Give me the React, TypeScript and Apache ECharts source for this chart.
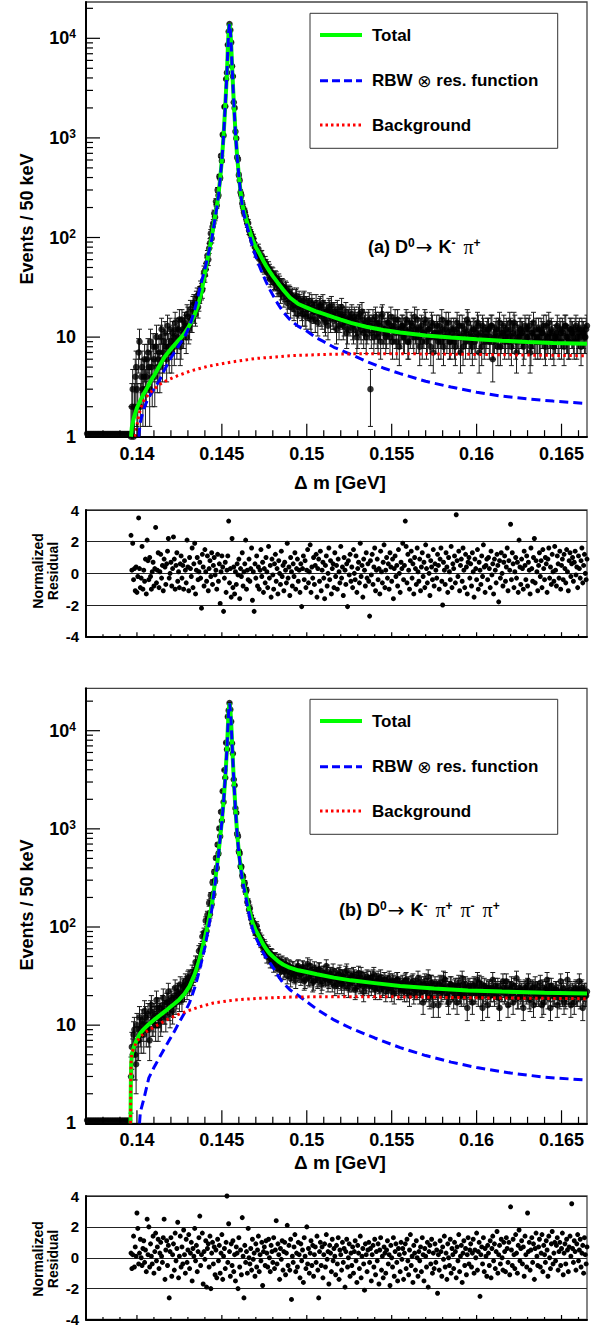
import React, { useEffect, useRef } from "react";
import * as echarts from "echarts";

const FONT = "'Liberation Sans', Arial, Helvetica, sans-serif";

// bin grids (GeV): 50 keV bins, stored as two interleaved sets
const evenStart = 0.13705;
const oddStart = 0.1397;
const binPair = 0.0001;
const resStart = 0.13965;
const resStep = 0.00005;

const xMin = 0.137;
const xMax = 0.1665;
const yMaxA = 23150;
const yMaxB = 27040;

const xMajor = [0.14, 0.145, 0.15, 0.155, 0.16, 0.165];
const xMajorLabels = ["0.14", "0.145", "0.15", "0.155", "0.16", "0.165"];
const xMinor = [0.137, 0.138, 0.139, 0.141, 0.142, 0.143, 0.144, 0.146, 0.147, 0.148, 0.149, 0.151, 0.152, 0.153, 0.154, 0.156, 0.157, 0.158, 0.159, 0.161, 0.162, 0.163, 0.164, 0.166];
const yMajor = [1, 10, 100, 1000, 10000];
const yMinor = [2, 3, 4, 5, 6, 7, 8, 9, 20, 30, 40, 50, 60, 70, 80, 90, 200, 300, 400, 500, 600, 700, 800, 900, 2000, 3000, 4000, 5000, 6000, 7000, 8000, 9000, 20000];

// (a) D0 -> K- pi+ : events per 50 keV bin (even bins, from 0.13705)
const countsA = [
  0, 0, 0, 0, 0, 0, 0, 0, 0, 0, 0, 0, 0, 0, 0, 0, 0, 0, 0, 0, 0, 0, 0, 0, 0, 0,
  1, 3, 2, 5, 2, 9, 4, 3, 6, 4,
  7, 3, 5, 8, 4, 10, 6, 5, 12, 7,
  11, 6, 8, 12, 7, 10, 14, 9, 12, 8,
  15, 11, 13, 17, 12, 19, 15, 22, 17, 26,
  23, 31, 30, 45, 48, 66, 78, 110, 128, 175,
  230, 300, 410, 660, 1080, 2050, 3900, 8600, 13900, 9100,
  4150, 2000, 990, 610, 375, 265, 200, 183, 150, 140,
  115, 104, 98, 80, 74, 77, 62, 66, 52, 57,
  46, 50, 38, 44, 35, 40, 31, 37, 27, 33,
  25, 31, 22, 28, 20, 26, 19, 25, 17, 24,
  21, 17, 24, 16, 19, 23, 15, 20, 18, 22,
  14, 20, 17, 22, 15, 18, 13, 19, 21, 16,
  18, 12, 17, 15, 20, 13, 16, 11, 15, 14,
  17, 12, 15, 10, 16, 13, 18, 11, 14, 12,
  15, 3, 13, 10, 16, 11, 14, 9, 17, 12,
  10, 14, 12, 16, 9, 13, 11, 15, 8, 12,
  13, 10, 15, 9, 12, 14, 11, 16, 10, 12,
  8, 13, 11, 15, 9, 12, 10, 14, 7, 11,
  13, 9, 11, 15, 8, 12, 10, 14, 9, 11,
  12, 8, 14, 10, 7, 13, 11, 9, 15, 10,
  11, 8, 12, 10, 14, 7, 11, 13, 9, 10,
  12, 9, 13, 6, 10, 12, 8, 14, 10, 11,
  9, 12, 10, 14, 8, 11, 13, 7, 10, 12,
  11, 8, 13, 10, 12, 7, 11, 14, 9, 10,
  12, 9, 11, 13, 8, 10, 14, 9, 11, 8,
  10, 13, 9, 11, 12, 8, 13, 10, 9, 12,
  11, 9, 13, 10, 12, 8, 11, 10, 12,
];
// (a) odd bins, from 0.1397
const countsAodd = [
  2, 1, 4, 3, 7, 2, 5, 4, 3, 6,
  5, 9, 4, 6, 8, 5, 7, 10, 6, 9,
  8, 13, 7, 9, 11, 8, 12, 10, 15, 9,
  12, 14, 10, 16, 13, 15, 21, 18, 24, 20,
  27, 29, 37, 42, 55, 60, 88, 98, 140, 160,
  210, 265, 395, 590, 1060, 2080, 4520, 11700, 12100, 5250,
  2280, 1160, 640, 425, 285, 220, 178, 165, 138, 118,
  110, 92, 88, 72, 70, 61, 64, 55, 50, 53,
  44, 47, 40, 43, 36, 39, 33, 35, 29, 32,
  28, 30, 24, 27, 25, 23, 21, 26, 20, 22,
  19, 23, 17, 21, 20, 16, 22, 18, 15, 19,
  17, 21, 16, 19, 14, 18, 20, 15, 17, 16,
  15, 19, 13, 17, 16, 14, 18, 12, 16, 15,
  13, 16, 14, 11, 17, 12, 15, 13, 10, 14,
  13, 11, 15, 12, 14, 10, 13, 16, 11, 12,
  11, 14, 10, 13, 12, 15, 9, 12, 11, 13,
  10, 12, 14, 9, 11, 13, 10, 12, 15, 10,
  12, 9, 11, 14, 10, 12, 8, 13, 11, 10,
  11, 13, 9, 12, 10, 14, 11, 9, 12, 10,
  9, 12, 11, 13, 10, 8, 12, 11, 14, 9,
  10, 12, 9, 11, 13, 10, 8, 12, 10, 11,
  12, 10, 13, 9, 11, 10, 12, 8, 11, 13,
  10, 11, 9, 12, 10, 14, 9, 11, 10, 12,
  11, 9, 12, 10, 13, 8, 11, 10, 12, 9,
  10, 12, 11, 9, 13, 10, 11, 12, 9, 10,
  11, 10, 12, 9, 11, 13, 10, 9, 12, 11,
  10, 12, 9, 11, 10, 12, 11, 10, 13,
];

// (b) D0 -> K- pi+ pi- pi+ (even bins, from 0.13705)
const countsB = [
  0, 0, 0, 0, 0, 0, 0, 0, 0, 0, 0, 0, 0, 0, 0, 0, 0, 0, 0, 0, 0, 0, 0, 0, 0, 0,
  3, 5, 9, 4, 7, 12, 8, 10, 14, 9,
  13, 7, 16, 11, 13, 18, 10, 15, 12, 19,
  14, 17, 22, 13, 18, 16, 24, 19, 21, 26,
  18, 25, 28, 23, 31, 27, 35, 33, 44, 42,
  57, 60, 80, 88, 116, 133, 176, 210, 285, 365,
  505, 690, 1010, 1490, 2420, 3980, 7550, 13900, 19100, 12400,
  5850, 2780, 1460, 840, 565, 410, 325, 280, 238, 180,
  155, 120, 112, 92, 103, 84, 78, 74, 60, 63,
  50, 56, 45, 52, 41, 48, 38, 46, 36, 44,
  35, 42, 32, 40, 30, 38, 33, 29, 39, 34,
  31, 39, 28, 35, 42, 30, 36, 27, 38, 33,
  29, 37, 26, 34, 31, 40, 27, 33, 30, 36,
  25, 32, 29, 35, 26, 31, 28, 36, 24, 30,
  27, 33, 23, 29, 34, 26, 30, 22, 28, 31,
  25, 30, 27, 33, 23, 28, 26, 31, 24, 29,
  22, 27, 30, 24, 28, 21, 26, 29, 25, 23,
  27, 22, 29, 25, 20, 26, 28, 23, 24, 30,
  21, 26, 17, 28, 22, 31, 19, 27, 16, 26,
  24, 16, 27, 22, 30, 29, 21, 17, 26, 22,
  19, 25, 17, 27, 21, 30, 20, 26, 15, 25,
  23, 17, 26, 21, 29, 27, 20, 15, 25, 21,
  16, 24, 22, 29, 20, 23, 25, 15, 22, 28,
  21, 28, 16, 23, 26, 17, 22, 30, 19, 23,
  22, 15, 24, 21, 28, 18, 23, 16, 26, 21,
  20, 27, 16, 17, 23, 29, 25, 15, 22, 20,
  23, 16, 21, 28, 20, 17, 19, 29, 21, 16,
  22, 17, 24, 20, 28, 23, 15, 22, 20,
];
// (b) odd bins, from 0.1397
const countsBodd = [
  6, 8, 5, 10, 7, 9, 11, 8, 12, 10,
  9, 14, 11, 12, 10, 15, 13, 11, 16, 14,
  12, 17, 15, 19, 14, 20, 17, 22, 18, 21,
  24, 22, 26, 30, 25, 28, 31, 35, 38, 44,
  47, 58, 64, 80, 91, 115, 135, 170, 215, 295,
  400, 560, 840, 1210, 1880, 3320, 6450, 16100, 16400, 7450,
  3180, 1620, 890, 590, 415, 335, 265, 230, 180, 150,
  130, 108, 100, 86, 92, 75, 70, 64, 66, 56,
  58, 49, 53, 45, 47, 42, 46, 39, 43, 40,
  37, 41, 36, 39, 34, 38, 32, 36, 40, 33,
  34, 38, 29, 36, 31, 40, 33, 28, 35, 30,
  37, 32, 28, 34, 30, 35, 29, 33, 27, 31,
  30, 26, 33, 28, 31, 25, 34, 29, 27, 32,
  28, 31, 24, 30, 27, 33, 25, 29, 26, 30,
  27, 25, 31, 24, 28, 30, 23, 27, 25, 29,
  26, 24, 28, 22, 27, 25, 29, 23, 26, 24,
  25, 28, 22, 26, 24, 27, 21, 25, 23, 27,
  24, 22, 26, 23, 25, 20, 27, 22, 24, 23,
  22, 26, 21, 24, 23, 25, 20, 23, 26, 22,
  24, 21, 25, 22, 20, 26, 23, 21, 24, 22,
  21, 25, 22, 24, 20, 23, 26, 21, 22, 24,
  23, 20, 24, 22, 25, 21, 19, 23, 22, 24,
  22, 24, 20, 23, 21, 25, 22, 19, 24, 21,
  20, 23, 22, 25, 19, 22, 24, 21, 20, 23,
  22, 20, 24, 21, 23, 19, 22, 25, 20, 21,
  23, 21, 19, 22, 24, 20, 22, 21, 23, 20,
  21, 23, 20, 22, 19, 24, 21, 20, 22,
];

const residA = [
  2.4, 0.2, 1.9, -0.4, 0.3, -1.1, 0.4, -1.2, -0.2, 3.5, 0.3, -0.9, -0.3, 1.7, -1.0, 0.2, -0.5, 0.9, -1.3, 2.1,
  0.8, -0.4, 1.0, -0.2, -1.0, 0.1, 0.7, -0.8, 0.3, 2.9, -0.6, 0.2, 1.3, -0.9, 0.1, 1.2, -0.3, 0.5, -1.1, 0.9,
  0.4, -0.7, 0.6, 1.4, 2.2, -0.3, 0.0, 0.7, -0.8, 0.3, 2.3, 0.9, -1.0, 0.5, 1.3, -0.5, 0.1, -0.9, 0.6, 1.1,
  -0.3, 0.5, -1.0, 0.8, 0.2, -0.6, 2.1, 0.4, -1.1, 1.0, 0.3, -0.2, 1.6, -0.9, 0.6, 1.9, -1.3, 0.2, 1.0, -0.4,
  0.1, 0.7, -0.3, -2.2, 1.2, 0.4, -0.8, 1.5, 0.1, -0.5, 1.1, -1.1, 0.3, 0.8, -0.2, 1.3, -0.7, 0.5, 1.0, -0.1,
  0.2, -1.0, 1.2, -0.5, 0.6, -1.9, 0.1, 1.1, 0.4, -2.4, -0.3, 0.7, -1.2, 0.2, 1.1, 3.3, -0.6, 0.3, -1.5, 2.2,
  -0.9, 0.4, -1.3, 0.1, -0.7, 0.6, -0.1, 0.9, -1.6, 0.3, -0.2, 1.3, -0.8, 0.1, 0.6, 2.1, -1.0, 0.2, -0.4, 0.9,
  -0.5, 0.3, 1.6, -1.7, 0.1, -2.4, 0.6, -0.3, 1.1, -0.8, 0.4, -1.0, 0.2, 1.5, -0.2, 0.7, -1.2, 0.3, -0.6, 1.0,
  0.1, -0.9, 1.7, -0.3, 0.5, -1.5, 0.9, -0.1, -1.0, 0.6, 1.2, -0.5, 0.3, -1.3, 0.8, 0.0, -0.7, 1.4, -0.2, 0.5,
  -1.1, 0.7, 0.2, -0.6, 1.9, -0.3, 0.4, -1.4, 1.0, 0.1, -0.8, 0.6, -0.2, 1.3, -1.0, 0.3, 0.9, -0.5, 0.2, -1.2,
  0.6, -2.1, 0.3, 1.1, -0.4, 0.8, -0.9, 0.2, 1.5, -0.6, 0.1, 1.8, -1.2, 0.4, -0.3, 1.0, -0.7, 0.5, 1.2, -1.5,
  0.3, 0.9, -0.5, 1.4, -1.1, 0.2, 0.7, -0.3, -1.6, 0.5, 1.1, -0.8, 0.0, 1.6, -0.4, 0.8, -1.3, 0.3, 0.6, -0.9,
  1.3, -0.2, 0.5, -1.0, 0.9, 0.1, -0.6, 1.7, -0.3, 0.4, -1.4, 1.0, 0.2, -0.7, 0.6, -2.1, 0.8, -0.1, 1.2, -0.5,
  0.4, -0.9, 1.5, 0.0, -0.4, 1.1, -1.2, 0.3, 0.7, -0.6, 1.9, -0.2, 0.5, -1.5, 0.9, 0.2, -0.8, 1.3, -0.3, 0.6,
  -0.5, -2.7, 0.8, -0.1, 1.2, -0.7, 0.4, 1.6, -1.1, 0.2, 0.9, -0.4, 0.3, -1.3, 1.4, 0.1, -0.6, 0.7, 1.8, -0.9,
  0.2, 1.0, -0.3, 0.6, -1.0, 1.3, 0.4, -0.5, 0.9, -1.6, 0.3, 1.1, -0.2, 0.5, -0.8, 1.5, 0.0, -1.2, 0.7, 0.3,
  1.9, -0.4, 0.5, 3.3, 1.7, -0.6, 1.2, 0.2, -1.0, 0.8, 1.4, -0.3, 0.6, -1.3, 1.0, 0.3, -0.7, 1.6, 0.1, -0.5,
  0.9, -1.1, 0.4, 1.3, -0.2, 0.7, -0.9, 1.8, 0.3, -0.6, 1.1, 0.0, -1.4, 0.8, 0.4, -0.4, 1.5, -0.8, 0.6, 0.2,
  -0.3, 1.2, 0.5, -1.0, 0.9, 1.6, -0.5, -2.0, 0.7, 0.2, -0.7, 1.3, 0.4, -1.2, 1.0, 0.1, -0.4, 1.7, -0.9, 0.6,
  0.3, 1.1, -0.6, 3.7, 0.8, -0.2, 1.4, -1.1, 0.5, 0.9, -0.5, 1.6, 0.2, -0.9, 1.2, 0.4, -1.3, 0.7, 1.0, -0.3,
  0.6, -0.8, 1.3, 0.1, -1.5, 0.9, 0.3, -0.4, 1.5, -1.0, 0.7, 0.2, -0.7, 1.1, -0.2, 1.8, 0.4, -1.2, 0.5, 0.9,
  -0.4, 1.0, 0.3, -0.9, 1.4, -0.1, 0.6, -1.3, 0.9, 0.2, -0.6, 1.2, 0.5, -1.8, 0.8, -0.3, 1.3, 0.0, -0.8, 0.7,
  1.1, -0.5, 0.4, 1.6, -1.1, 0.8, 0.2, 3.1, -0.4, 1.3, 0.6, -0.9, 0.1, 1.0, -0.3, 0.7, -1.2, 2.1, 0.4, -0.7,
  0.9, 0.3, -1.0, 1.4, 0.5, -0.4, 1.1, -0.8, 0.7, 0.2, -1.3, 1.6, 0.3, -0.5, 1.0, 2.2, -0.6, 0.8, 0.1, -1.1,
  0.5, 1.3, -0.2, 0.8, -0.9, 1.5, 0.3, -0.4, 1.0, 0.6, -1.2, 0.9, 1.6, -0.3, 0.4, -0.7, 1.2, 0.1, -0.5, 1.7,
  0.2, -0.8, 1.1, 0.6, -0.3, 1.4, -1.0, 0.5, 0.9, -0.4, 1.2, 0.3, -0.6, 1.5, 0.1, -1.1, 0.8, 1.3, -0.2, 0.6,
  1.0, -0.5, 0.7, 1.4, -0.1, 0.4, -0.9, 1.1, 0.3, -0.3, 0.8, 1.6, -0.6, 0.5, 1.2, 0.0, -0.4, 0.9, 1.3, 0.2,
];

const residB = [
  0.3, -0.7, 0.2, 1.4, -0.6, 0.7, 0.1, 2.9, 1.9, -0.4, 0.3, 1.2, 0.0, -0.5, 0.6, 1.1, -0.3, 0.5, -0.9, 2.5,
  0.2, 2.0, -0.6, 0.9, 0.1, -0.4, 1.4, -1.0, 0.4, 1.6, -0.2, 0.7, 1.2, -0.7, 0.3, 1.0, 0.1, -0.3, 1.3, 2.5,
  -1.4, 0.5, 1.1, -0.5, 0.8, -2.6, 0.4, 1.3, -1.2, 0.2, 0.9, -0.8, 1.6, -0.2, 0.6, 2.3, -1.3, 0.1, 1.4, -0.6,
  0.7, -0.4, 1.8, 0.2, -1.0, 1.2, -0.3, 0.5, 1.5, -0.7, 0.3, 1.0, -1.5, 0.6, 0.1, 1.9, -0.2, 0.8, -0.9, 0.4,
  1.3, 2.7, -0.5, 0.2, 1.6, -1.7, 0.4, -0.1, 1.1, -1.9, 0.6, 0.9, -0.6, 1.4, -2.0, 0.3, 1.0, -0.4, 0.7, -1.1,
  0.5, -1.3, 1.2, -0.2, 0.8, -1.0, 0.3, 1.5, -1.4, 0.1, 0.6, -0.7, 1.0, 4.0, -0.3, 2.2, 0.4, -1.2, 0.9, -0.5,
  1.1, -0.9, 0.2, -1.5, 0.7, 0.3, -2.0, 1.3, -0.6, 0.5, -1.1, 2.6, 0.1, -2.6, 0.8, -0.3, 0.4, -1.0, 1.9, 0.0,
  -0.4, 0.6, -0.8, 1.2, -0.1, 0.3, -1.2, 0.9, -0.6, 0.5, 1.4, -0.9, 0.2, -0.2, 1.0, -1.8, 0.4, 0.7, -0.5, 1.1,
  0.3, -0.6, 1.2, 0.0, -0.9, 0.8, 0.4, -0.3, 1.3, -0.7, 0.5, 2.4, -0.4, 0.9, 0.2, -1.4, 0.6, -0.1, 1.1, -0.8,
  0.4, 1.0, -1.1, 0.3, 2.1, -0.5, 0.8, -0.8, 1.2, -2.7, 0.1, -0.3, 0.7, 1.5, -0.9, 0.3, -0.6, 1.0, 0.2, -1.3,
  0.9, -0.2, 0.5, -1.6, 1.3, 0.1, -0.7, 2.0, -0.4, 0.6, -1.0, 0.3, 1.1, -0.5, 0.8, -1.2, 0.2, 0.7, -0.3, 1.4,
  -0.8, -2.6, 0.4, 1.0, -0.5, 0.7, -1.3, 0.2, 0.9, -0.6, 1.5, -0.1, 0.4, -1.7, 0.8, 0.3, -0.9, 1.2, -0.2, 0.6,
  0.1, -1.1, 0.8, -0.4, 1.3, -1.4, 0.5, 0.2, -0.8, 1.0, -0.3, 0.6, -1.9, 0.4, 1.2, -0.6, 0.0, 0.9, -1.2, 0.3,
  -0.5, 0.7, -1.0, 0.4, 1.1, -0.2, -1.6, 0.8, 0.3, -0.7, 1.4, -1.3, 0.1, 0.6, -0.4, -2.1, 0.9, 0.2, -0.9, 0.5,
  1.0, -0.3, 0.6, -1.5, 0.2, 0.8, -0.6, 1.2, -1.1, 0.4, -0.2, 0.9, -1.7, 0.5, 1.3, -0.8, 0.1, -1.3, 0.7, 0.3,
  -1.0, 0.5, 1.1, -0.4, 0.2, -1.8, 0.8, 0.0, -0.6, 1.3, -1.2, 0.4, 0.9, -0.3, -1.5, 0.6, 0.2, -0.9, 1.0, -0.1,
  0.6, -1.4, 0.3, 0.9, -0.7, 1.2, -0.2, -1.1, 0.5, 1.5, -0.5, 0.1, -1.6, 0.8, 0.3, -0.8, 1.1, 0.0, -1.2, 0.4,
  -0.2, 0.7, -0.9, 1.3, 0.2, -1.5, 0.6, 0.1, -0.6, 1.0, -1.9, 0.4, 0.8, -0.4, 1.2, -1.0, 0.3, -0.7, 0.9, -0.3,
  0.5, -2.3, 0.2, -0.8, 1.1, 0.4, -1.2, 0.7, -0.1, 1.4, -0.6, 0.3, -1.4, 0.9, 0.0, -0.5, 1.2, -1.0, 0.6, 0.2,
  -0.7, 1.0, 0.4, -1.3, 0.7, -0.2, 1.5, -0.9, 0.1, 0.8, -1.6, 0.3, 1.1, -0.5, 0.6, -1.1, 0.2, 1.3, -0.4, 0.5,
  0.9, -0.6, 0.3, 1.2, -1.0, 0.5, 0.0, 1.6, -0.8, 0.4, 1.0, -2.5, 0.2, 0.7, -0.4, 1.3, -0.9, 0.6, 0.1, -1.2,
  0.8, 0.3, -0.5, 1.1, -1.3, 0.6, 1.4, -0.2, 0.9, -0.7, 0.4, 1.7, -1.0, 0.2, 0.8, -0.4, 1.2, 0.0, -0.8, 1.0,
  0.4, -0.9, 1.3, 0.6, -0.3, 1.0, -1.1, 3.3, 0.5, -0.5, 1.2, 0.2, -0.7, 1.5, 0.3, -1.0, 0.8, 1.8, -0.2, 0.6,
  1.1, -0.4, 0.7, -1.2, 1.4, 0.2, -0.6, 2.9, 0.4, 1.0, -0.8, 0.5, 1.3, -0.3, 0.9, -1.4, 0.6, 1.6, 0.1, -0.5,
  0.7, 1.2, -0.6, 0.3, 1.5, -0.9, 0.8, 0.2, -0.3, 1.1, 0.5, -1.2, 1.4, 0.0, -0.7, 0.9, 1.7, -0.4, 0.3, 1.0,
  -0.2, 0.8, 1.3, -0.8, 0.4, 1.0, -0.5, 0.6, 1.6, -1.1, 0.3, 0.9, -0.4, 1.2, 0.5, -0.9, 0.7, 1.4, 0.1, 3.5,
  0.6, -0.3, 1.1, 0.4, -0.8, 0.9, 1.5, -0.2, 0.5, 1.2, -0.6, 0.3, 0.8, -1.0, 1.3, 0.2, -0.4, 0.7, 1.0, 0.4,
];

// fitted curves: [Δm, events]
const totalA = [
  [0.13965, 1.0], [0.1397, 1.25], [0.1398, 1.5], [0.1399, 1.72], [0.14, 1.95], [0.1402, 2.3], [0.1404, 2.7], [0.1406, 3.1], [0.1408, 3.6], [0.141, 4.1], [0.1412, 4.7], [0.1414, 5.4], [0.1416, 6.2], [0.1418, 6.9], [0.142, 7.6], [0.1422, 8.3], [0.1424, 9.1], [0.1426, 9.9], [0.1428, 10.9], [0.143, 12.3], [0.1432, 14.2], [0.1434, 16.8], [0.1436, 21], [0.1438, 28], [0.144, 44], [0.1442, 66], [0.1444, 100], [0.1446, 165], [0.1447, 205], [0.1448, 270], [0.1449, 390], [0.145, 600], [0.1451, 1050], [0.1452, 2100], [0.1453, 4500], [0.14535, 7800], [0.1454, 11800], [0.14545, 14000], [0.1455, 12000], [0.14555, 8600], [0.1456, 5300], [0.1457, 2300], [0.1458, 1150], [0.1459, 650], [0.146, 420], [0.1461, 290], [0.1462, 215], [0.1463, 183], [0.1464, 160], [0.1465, 140], [0.1466, 122], [0.1468, 96], [0.147, 80], [0.1472, 70], [0.1474, 60], [0.1476, 52], [0.1478, 46], [0.148, 41], [0.1483, 35], [0.1486, 30], [0.149, 25], [0.1495, 21.5], [0.15, 19.8], [0.1505, 18.2], [0.151, 17.1], [0.1516, 15.8], [0.152, 15.0], [0.1526, 13.9], [0.1535, 12.7], [0.1545, 11.8], [0.1555, 11.1], [0.157, 10.4], [0.1585, 9.9], [0.16, 9.5], [0.1615, 9.2], [0.163, 8.95], [0.1645, 8.75], [0.1665, 8.6],
];
const rbwA = [
  [0.1401, 1.0], [0.1402, 1.4], [0.1404, 1.9], [0.1406, 2.3], [0.1408, 2.65], [0.141, 3.0], [0.1413, 3.6], [0.1416, 4.6], [0.1419, 5.8], [0.1422, 7.0], [0.1425, 8.4], [0.1428, 10.0], [0.143, 11.8], [0.1432, 14.5], [0.1434, 19], [0.1436, 26], [0.1438, 36], [0.144, 48], [0.1442, 68], [0.1444, 95], [0.1446, 158], [0.1447, 198], [0.1448, 263], [0.1449, 384], [0.145, 595], [0.1451, 1045], [0.1452, 2095], [0.1453, 4495], [0.14535, 7795], [0.1454, 11795], [0.14545, 13995], [0.1455, 11995], [0.14555, 8595], [0.1456, 5295], [0.1457, 2295], [0.1458, 1145], [0.1459, 645], [0.146, 414], [0.1461, 284], [0.1462, 209], [0.1463, 172], [0.1464, 146], [0.1465, 126], [0.1466, 110], [0.1468, 82], [0.147, 64], [0.1472, 52], [0.1474, 43], [0.1476, 36], [0.1478, 30.5], [0.148, 26.5], [0.1483, 21.5], [0.1486, 18], [0.149, 15], [0.1495, 12.8], [0.15, 11.5], [0.1505, 10], [0.151, 9], [0.1516, 7.9], [0.1526, 6.7], [0.1535, 5.7], [0.1545, 4.9], [0.1555, 4.3], [0.157, 3.6], [0.1585, 3.15], [0.16, 2.8], [0.1615, 2.55], [0.163, 2.4], [0.1645, 2.28], [0.1665, 2.15],
];
const bkgA = [
  [0.1399, 1.0], [0.14, 1.3], [0.1401, 1.6], [0.1402, 1.9], [0.1404, 2.3], [0.1407, 2.7], [0.141, 3.0], [0.1414, 3.4], [0.1418, 3.7], [0.1424, 4.1], [0.1432, 4.6], [0.1442, 5.1], [0.1455, 5.6], [0.147, 6.1], [0.149, 6.5], [0.151, 6.7], [0.153, 6.8], [0.156, 6.8], [0.16, 6.7], [0.163, 6.6], [0.1665, 6.5],
];
const totalB = [
  [0.13962, 1.0], [0.13964, 2.5], [0.13966, 4.0], [0.1397, 5.0], [0.1398, 5.9], [0.14, 7.2], [0.1402, 8.3], [0.1404, 9.1], [0.1407, 10.2], [0.141, 11.3], [0.1414, 12.8], [0.1418, 14.5], [0.1422, 16.5], [0.1425, 18.3], [0.1428, 20.8], [0.1431, 25], [0.1434, 33], [0.1436, 42], [0.1438, 56], [0.144, 78], [0.1442, 112], [0.1444, 165], [0.1446, 290], [0.1448, 560], [0.145, 1200], [0.1451, 1900], [0.1452, 3300], [0.1453, 6500], [0.14535, 10500], [0.1454, 16000], [0.14545, 19000], [0.1455, 16500], [0.14555, 12000], [0.1456, 7500], [0.1457, 3200], [0.1458, 1600], [0.1459, 900], [0.146, 580], [0.1461, 420], [0.1462, 330], [0.1463, 270], [0.1464, 225], [0.1465, 185], [0.1466, 152], [0.1468, 112], [0.147, 92], [0.1472, 80], [0.1474, 68], [0.1476, 60], [0.1478, 54], [0.148, 50], [0.1483, 45], [0.1486, 41.5], [0.149, 38.5], [0.1495, 36.2], [0.15, 34.8], [0.1506, 33], [0.1516, 30.5], [0.1526, 28.6], [0.154, 26.8], [0.1555, 25], [0.1575, 23.6], [0.1595, 22.6], [0.1615, 22], [0.164, 21.4], [0.1665, 21],
];
const rbwB = [
  [0.14015, 1.0], [0.1402, 1.3], [0.1404, 1.75], [0.1407, 2.9], [0.141, 3.7], [0.1413, 4.6], [0.1416, 5.7], [0.1419, 7.0], [0.1422, 8.6], [0.1425, 10.8], [0.1428, 13.3], [0.1431, 17], [0.1434, 24], [0.1436, 32], [0.1438, 44], [0.144, 62], [0.1442, 95], [0.1444, 148], [0.1446, 272], [0.1448, 542], [0.145, 1182], [0.1451, 1882], [0.1452, 3282], [0.1453, 6482], [0.14535, 10482], [0.1454, 15982], [0.14545, 18982], [0.1455, 16482], [0.14555, 11982], [0.1456, 7482], [0.1457, 3182], [0.1458, 1582], [0.1459, 882], [0.146, 562], [0.1461, 402], [0.1462, 312], [0.1463, 252], [0.1464, 206], [0.1465, 166], [0.1466, 135], [0.1468, 96], [0.147, 78], [0.1472, 66], [0.1474, 56], [0.1476, 49], [0.1478, 44], [0.148, 39], [0.1483, 32], [0.1486, 27], [0.149, 23], [0.1496, 19.5], [0.1506, 14.5], [0.1516, 11.3], [0.1526, 9.3], [0.154, 7.4], [0.1555, 5.9], [0.157, 4.9], [0.1585, 4.2], [0.16, 3.7], [0.162, 3.25], [0.164, 2.95], [0.1665, 2.75],
];
const bkgB = [
  [0.13962, 1.0], [0.13964, 3.0], [0.13966, 4.5], [0.1397, 5.2], [0.1398, 5.8], [0.14, 6.8], [0.1402, 7.6], [0.1405, 8.5], [0.1408, 9.1], [0.1412, 10.0], [0.1417, 11.2], [0.1423, 12.6], [0.143, 14.0], [0.1437, 15.4], [0.1445, 16.8], [0.1457, 18.0], [0.147, 18.7], [0.149, 19.3], [0.151, 19.5], [0.154, 19.5], [0.157, 19.3], [0.16, 19.0], [0.163, 18.8], [0.1665, 18.6],
];

const GRIDS = [
  { left: 86, top: 2, width: 501, height: 434.7 },
  { left: 86, top: 510, width: 501, height: 126.7 },
  { left: 86, top: 688.3, width: 501, height: 435 },
  { left: 86, top: 1196, width: 501, height: 127 },
];

const GREEN = "#00ff00";
const BLUE = "#0000ff";
const RED = "#ff0000";

function tickLine(x1: number, y1: number, x2: number, y2: number) {
  return { type: "line", shape: { x1, y1, x2, y2 }, style: { stroke: "#000", lineWidth: 1.2 } };
}

function mainTicks(gridIdx: number, yMax: number) {
  return {
    type: "custom",
    xAxisIndex: gridIdx,
    yAxisIndex: gridIdx,
    clip: false,
    silent: true,
    z: 20,
    data: [[0.15, 10]],
    renderItem: (_p: any, api: any) => {
      const children: any[] = [];
      const origin = api.coord([xMin, 1]);
      const y0 = origin[1];
      const x0 = origin[0];
      xMajor.forEach((v, k) => {
        const px = api.coord([v, 1])[0];
        children.push(tickLine(px, y0, px, y0 - 13));
        children.push({
          type: "text",
          style: { text: xMajorLabels[k], x: px, y: y0 + 17, align: "center", verticalAlign: "middle", font: `bold 18px ${FONT}`, fill: "#000" },
        });
      });
      xMinor.forEach((v) => {
        if (v > xMax) return;
        const px = api.coord([v, 1])[0];
        children.push(tickLine(px, y0, px, y0 - 6.5));
      });
      yMajor.forEach((v) => {
        const py = api.coord([xMin, v])[1];
        children.push(tickLine(x0, py, x0 + 14, py));
      });
      yMinor.forEach((v) => {
        if (v > yMax) return;
        const py = api.coord([xMin, v])[1];
        children.push(tickLine(x0, py, x0 + 7, py));
      });
      return { type: "group", children };
    },
  };
}

function resTicks(gridIdx: number) {
  return {
    type: "custom",
    xAxisIndex: gridIdx,
    yAxisIndex: gridIdx,
    clip: false,
    silent: true,
    z: 20,
    data: [[0.15, 0]],
    renderItem: (_p: any, api: any) => {
      const children: any[] = [];
      const y0 = api.coord([xMin, -4])[1];
      xMajor.forEach((v) => {
        const px = api.coord([v, -4])[0];
        children.push(tickLine(px, y0, px, y0 - 4.5));
      });
      xMinor.forEach((v) => {
        if (v > xMax) return;
        const px = api.coord([v, -4])[0];
        children.push(tickLine(px, y0, px, y0 - 2.5));
      });
      return { type: "group", children };
    },
  };
}

function panelSeries(p: number, counts: number[], countsOdd: number[], total: number[][], rbw: number[][], bkg: number[][], resid: number[], yMax: number) {
  const gm = 2 * p;
  const gr = 2 * p + 1;
  const ptsEven = counts.map((n, i) => [+(evenStart + i * binPair).toFixed(6), n]);
  const ptsOdd = countsOdd.map((n, i) => [+(oddStart + i * binPair).toFixed(6), n]);
  const pts = ptsEven.concat(ptsOdd);
  const filled = pts.filter((d) => d[1] > 0 && d[0] <= xMax);
  const empty = ptsEven.filter((d) => d[1] === 0).map((d) => [d[0], 1]);
  const res = resid.map((r, i) => [+(resStart + i * resStep).toFixed(6), r]);
  return [
    {
      type: "custom",
      name: "errors" + p,
      xAxisIndex: gm,
      yAxisIndex: gm,
      clip: true,
      silent: true,
      z: 2,
      data: filled,
      renderItem: (_params: any, api: any) => {
        const x = api.value(0);
        const n = api.value(1);
        const s = Math.sqrt(n);
        const lo = Math.max(n - s, 1);
        const hi = n + s;
        const pHi = api.coord([x, hi]);
        const pLo = api.coord([x, lo]);
        const st = { stroke: "#1a1a1a", lineWidth: 1 };
        const children: any[] = [
          { type: "line", shape: { x1: pHi[0], y1: pHi[1], x2: pLo[0], y2: pLo[1] }, style: st },
          { type: "line", shape: { x1: pHi[0] - 2.5, y1: pHi[1], x2: pHi[0] + 2.5, y2: pHi[1] }, style: st },
        ];
        if (n - s > 1) {
          children.push({ type: "line", shape: { x1: pLo[0] - 2.5, y1: pLo[1], x2: pLo[0] + 2.5, y2: pLo[1] }, style: st });
        }
        return { type: "group", children };
      },
    },
    {
      type: "scatter",
      name: "data" + p,
      xAxisIndex: gm,
      yAxisIndex: gm,
      symbol: "circle",
      symbolSize: 6.5,
      itemStyle: { color: "#000" },
      z: 3,
      data: filled,
    },
    {
      type: "scatter",
      name: "empty" + p,
      xAxisIndex: gm,
      yAxisIndex: gm,
      symbol: "circle",
      symbolSize: 6,
      symbolOffset: [0, -3],
      itemStyle: { color: "#000" },
      z: 3,
      clip: false,
      data: empty,
    },
    {
      type: "line",
      name: "Total",
      xAxisIndex: gm,
      yAxisIndex: gm,
      showSymbol: false,
      symbol: "none",
      lineStyle: { color: GREEN, width: 4 },
      z: 4,
      data: total,
    },
    {
      type: "line",
      name: "RBW",
      xAxisIndex: gm,
      yAxisIndex: gm,
      showSymbol: false,
      symbol: "none",
      lineStyle: { color: BLUE, width: 3, type: [9, 5] },
      z: 5,
      data: rbw,
    },
    {
      type: "line",
      name: "Background",
      xAxisIndex: gm,
      yAxisIndex: gm,
      showSymbol: false,
      symbol: "none",
      lineStyle: { color: RED, width: 3, type: [2.5, 3.5] },
      z: 6,
      data: bkg,
    },
    mainTicks(gm, yMax),
    {
      type: "scatter",
      name: "resid" + p,
      xAxisIndex: gr,
      yAxisIndex: gr,
      symbol: "circle",
      symbolSize: 5,
      itemStyle: { color: "#000", opacity: 1 },
      z: 3,
      data: res,
    },
    resTicks(gr),
  ];
}

function legend(dy: number) {
  const t = (y: number, text: string) => ({
    type: "text",
    x: 372,
    y: y + dy,
    z: 51,
    style: { text, font: `bold 17px ${FONT}`, fill: "#000", align: "left", verticalAlign: "middle" },
  });
  return [
    { type: "rect", shape: { x: 310, y: 13.3 + dy, width: 247.7, height: 135 }, style: { fill: "#fff", stroke: "#333", lineWidth: 1 }, z: 50 },
    { type: "line", shape: { x1: 320, y1: 35 + dy, x2: 362, y2: 35 + dy }, style: { stroke: GREEN, lineWidth: 4 }, z: 51 },
    { type: "line", shape: { x1: 320, y1: 80.7 + dy, x2: 362, y2: 80.7 + dy }, style: { stroke: BLUE, lineWidth: 3, lineDash: [8, 4] }, z: 51 },
    { type: "line", shape: { x1: 320, y1: 125 + dy, x2: 362, y2: 125 + dy }, style: { stroke: RED, lineWidth: 3, lineDash: [2.5, 3] }, z: 51 },
    t(35, "Total"),
    {
      type: "text",
      x: 372,
      y: 80.7 + dy,
      z: 51,
      style: {
        text: "RBW {o|⊗} res. function",
        font: `bold 17px ${FONT}`,
        fill: "#000",
        align: "left",
        verticalAlign: "middle",
        rich: { o: { font: `17px 'DejaVu Sans'`, fill: "#000" } },
      },
    },
    t(125, "Background"),
  ];
}

const annRich = {
  s: { font: `bold 12px ${FONT}`, fill: "#000", verticalAlign: "top", lineHeight: 12 },
  r: { font: `20px 'DejaVu Sans'`, fill: "#000", padding: [0, 6, 0, 1] },
  p: { font: `20px 'Liberation Serif'`, fill: "#000", padding: [0, 0, 0, 3] },
};

function buildOption() {
  const xAxes = GRIDS.map((_, i) => ({
    type: "value",
    gridIndex: i,
    min: xMin,
    max: xMax,
    axisLine: { show: true, onZero: false, lineStyle: { color: "#000", width: 2 } },
    axisTick: { show: false },
    axisLabel: { show: false },
    splitLine: { show: false },
  }));
  const logAxis = (i: number, max: number) => ({
    type: "log",
    logBase: 10,
    gridIndex: i,
    min: 1,
    max,
    axisLine: { show: true, onZero: false, lineStyle: { color: "#000", width: 2 } },
    axisTick: { show: false },
    minorTick: { show: false },
    splitLine: { show: false },
    axisLabel: {
      showMaxLabel: false,
      margin: 10,
      color: "#000",
      fontFamily: FONT,
      fontWeight: "bold",
      fontSize: 18,
      lineHeight: 20,
      formatter: (v: number) => {
        const e = Math.round(Math.log10(v));
        if (e === 0) return "1";
        if (e === 1) return "10";
        return `10{sup|${e}}`;
      },
      rich: {
        sup: { fontSize: 12, fontWeight: "bold", fontFamily: FONT, color: "#000", verticalAlign: "top", lineHeight: 12 },
      },
    },
  });
  const resAxis = (i: number) => ({
    type: "value",
    gridIndex: i,
    min: -4,
    max: 4,
    interval: 2,
    axisLine: { show: true, onZero: false, lineStyle: { color: "#000", width: 2 } },
    axisTick: { show: false },
    splitLine: { show: true, lineStyle: { color: "#222", width: 1 } },
    axisLabel: { margin: 7, color: "#000", fontFamily: FONT, fontWeight: "bold", fontSize: 15 },
  });

  const titleText = (x: number, y: number, text: string, size: number, rot = 0) => ({
    type: "text",
    x,
    y,
    rotation: rot,
    style: { text, font: `bold ${size}px ${FONT}`, fill: "#000", align: "center", verticalAlign: "middle" },
    z: 60,
  });

  return {
    animation: false,
    backgroundColor: "#fff",
    grid: GRIDS.map((g) => ({ ...g, show: true, borderColor: "#444", borderWidth: 1.3, backgroundColor: "transparent" })),
    xAxis: xAxes,
    yAxis: [logAxis(0, yMaxA), resAxis(1), logAxis(2, yMaxB), resAxis(3)],
    series: [
      ...panelSeries(0, countsA, countsAodd, totalA, rbwA, bkgA, residA, yMaxA),
      ...panelSeries(1, countsB, countsBodd, totalB, rbwB, bkgB, residB, yMaxB),
    ],
    graphic: {
      elements: [
        ...legend(0),
        ...legend(686),
        titleText(27, 219, "Events / 50 keV", 18, Math.PI / 2),
        titleText(27, 905, "Events / 50 keV", 18, Math.PI / 2),
        titleText(340, 482, "Δ m [GeV]", 19),
        titleText(340, 1162, "Δ m [GeV]", 19),
        titleText(38, 571, "Normalized", 14, Math.PI / 2),
        titleText(53, 571, "Residual", 14, Math.PI / 2),
        titleText(38, 1259, "Normalized", 14, Math.PI / 2),
        titleText(53, 1259, "Residual", 14, Math.PI / 2),
        {
          type: "text",
          x: 368,
          y: 247,
          z: 60,
          style: {
            text: "(a) D{s|0}{r|→}K{s|-} {p|π}{s|+}",
            rich: annRich,
            font: `bold 18px ${FONT}`,
            fill: "#000",
            align: "left",
            verticalAlign: "middle",
          },
        },
        {
          type: "text",
          x: 339,
          y: 910,
          z: 60,
          style: {
            text: "(b) D{s|0}{r|→}K{s|-} {p|π}{s|+} {p|π}{s|-} {p|π}{s|+}",
            rich: annRich,
            font: `bold 18px ${FONT}`,
            fill: "#000",
            align: "left",
            verticalAlign: "middle",
          },
        },
      ],
    },
  };
}

export default function App() {
  const ref = useRef<HTMLDivElement>(null);
  useEffect(() => {
    if (!ref.current) return;
    const chart = echarts.init(ref.current, null, { renderer: "svg" });
    chart.setOption(buildOption() as any);
    return () => chart.dispose();
  }, []);
  return <div ref={ref} style={{ position: "absolute", left: 0, top: 0, width: 603, height: 1327 }} />;
}
